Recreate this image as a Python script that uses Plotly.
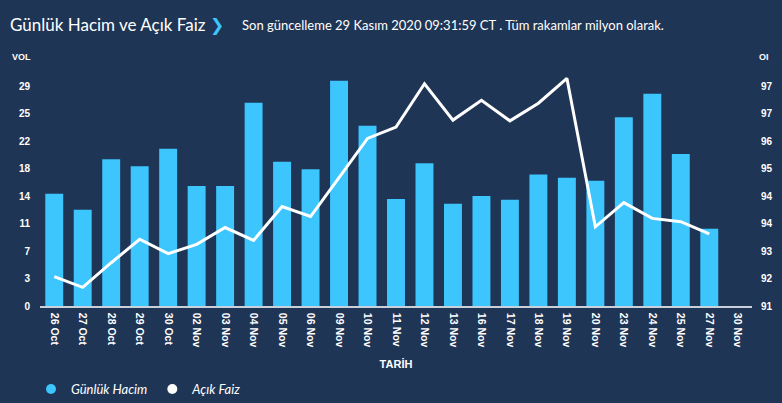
import plotly.graph_objects as go

dates = ["26 Oct", "27 Oct", "28 Oct", "29 Oct", "30 Oct", "02 Nov", "03 Nov", "04 Nov",
         "05 Nov", "06 Nov", "09 Nov", "10 Nov", "11 Nov", "12 Nov", "13 Nov", "16 Nov",
         "17 Nov", "18 Nov", "19 Nov", "20 Nov", "23 Nov", "24 Nov", "25 Nov", "27 Nov", "30 Nov"]
volume = [14.7, 12.6, 19.2, 18.3, 20.6, 15.7, 15.7, 26.6, 18.9, 17.9, 29.5, 23.6, 14.0,
          18.7, 13.4, 14.4, 13.9, 17.2, 16.8, 16.4, 24.7, 27.8, 19.9, 10.1, None]
open_interest = [92.10, 91.81, 92.48, 93.12, 92.73, 92.98, 93.44, 93.09, 94.01, 93.74,
                 94.80, 95.87, 96.18, 97.36, 96.37, 96.91, 96.35, 96.83, 97.51, 93.46,
                 94.12, 93.69, 93.60, 93.27, None]
vol_tickvals = [0, 3.6, 7.2, 10.8, 14.4, 18.0, 21.6, 25.2, 28.8]
vol_ticktext = ["0", "3", "7", "11", "14", "18", "22", "25", "29"]
oi_tickvals = [91.3, 92.05, 92.8, 93.55, 94.3, 95.05, 95.8, 96.55, 97.3]
oi_ticktext = ["91", "92", "93", "94", "94", "95", "96", "97", "97"]

BG = "#1f3555"
BAR = "#3dc5fd"
W, H = 782, 403
L, R, T, B = 40, 30, 65, 97
PW = W - L - R
PH = H - T - B

def px(x):
    return (x - L) / PW

def py(y):
    return (H - B - y) / PH

fig = go.Figure()
fig.add_trace(go.Bar(x=dates, y=volume, marker_color=BAR, marker_line_width=0,
                     name="Günlük Hacim", showlegend=False, yaxis="y"))
fig.add_trace(go.Scatter(x=dates, y=open_interest, mode="lines",
                         line=dict(color="white", width=3), name="Açık Faiz",
                         showlegend=False, yaxis="y2"))
# legend entries with round markers
fig.add_trace(go.Scatter(x=[None], y=[None], mode="markers", name="Günlük Hacim",
                         marker=dict(color=BAR, size=10, symbol="circle")))
fig.add_trace(go.Scatter(x=[None], y=[None], mode="markers", name="Açık Faiz",
                         marker=dict(color="white", size=10, symbol="circle")))

vol_top = (H - B - T) / (220 / 28.8)
oi_top = 91.3 + PH / (220 / 6.0)

tickfont = dict(family="Liberation Sans, Arial", size=10, color="white", weight="bold")
xtickfont = dict(family="Liberation Sans, Arial", size=10.5, color="white", weight="bold")
fig.update_layout(
    width=W, height=H,
    paper_bgcolor=BG, plot_bgcolor=BG,
    margin=dict(l=L, r=R, t=T, b=B, autoexpand=False),
    bargap=0.37,
    showlegend=True,
    legend=dict(orientation="h", x=px(31), y=py(389), xanchor="left", yanchor="middle",
                font=dict(family="Lato", size=13, color="white", style="italic"),
                bgcolor="rgba(0,0,0,0)", itemwidth=30, tracegroupgap=0),
    xaxis=dict(type="category", range=[-0.5, len(dates) - 0.5], tickangle=90,
               showgrid=False, zeroline=False, showline=True, linecolor="#c8d0dc",
               linewidth=1.5, ticks="", tickfont=xtickfont, ticklabelstandoff=3,
               automargin=False,
               title=dict(text="TARİH", font=dict(family="Liberation Sans, Arial", size=11,
                                                   color="white", weight="bold"), standoff=14)),
    yaxis=dict(range=[0, vol_top], tickvals=vol_tickvals, ticktext=vol_ticktext,
               showgrid=False, zeroline=False, showline=False, ticks="", automargin=False,
               tickfont=tickfont, ticklabelstandoff=9),
    yaxis2=dict(range=[91.3, oi_top], tickvals=oi_tickvals, ticktext=oi_ticktext,
                overlaying="y", side="right", showgrid=False, zeroline=False,
                showline=False, ticks="", tickfont=tickfont, ticklabelstandoff=8,
                automargin=False),
    annotations=[
        dict(text="Günlük Hacim ve Açık Faiz<span style='color:#3dc5fd'> ❯</span>",
             xref="paper", yref="paper", x=px(8), y=py(25), xanchor="left", yanchor="middle",
             showarrow=False, font=dict(family="Lato", size=17, color="white")),
        dict(text="Son güncelleme 29 Kasım 2020 09:31:59 CT . Tüm rakamlar milyon olarak.",
             xref="paper", yref="paper", x=px(240), y=py(25), xanchor="left", yanchor="middle",
             showarrow=False, font=dict(family="Lato", size=13, color="white")),
        dict(text="VOL", xref="paper", yref="paper", x=px(10), y=py(57), xanchor="left",
             yanchor="middle", showarrow=False,
             font=dict(family="Liberation Sans, Arial", size=9, color="white", weight="bold")),
        dict(text="OI", xref="paper", yref="paper", x=px(757), y=py(57), xanchor="left",
             yanchor="middle", showarrow=False,
             font=dict(family="Liberation Sans, Arial", size=9, color="white", weight="bold")),
    ],
)

fig.write_html("out.html", config={"displayModeBar": False},
               post_script="document.body.style.margin='0';")
